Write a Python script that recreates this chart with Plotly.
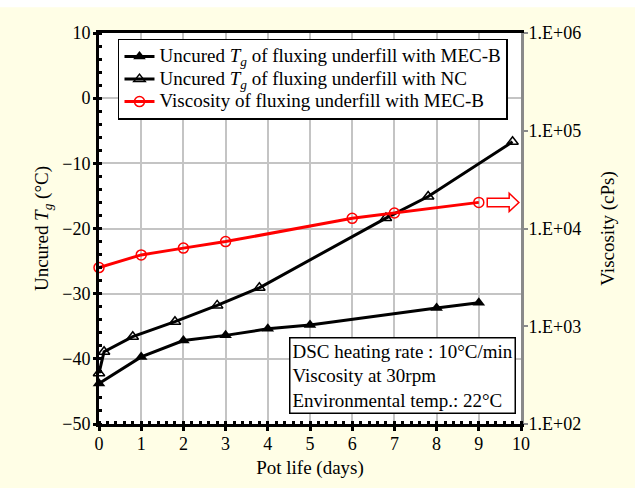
import plotly.graph_objects as go

# ---- data ----
mecb_days = [0, 1, 2, 3, 4, 5, 8, 9]
mecb_tg = [-43.8, -39.7, -37.2, -36.4, -35.4, -34.8, -32.2, -31.4]

nc_days = [0, 0.12, 0.8, 1.8, 2.8, 3.8, 6.8, 7.8, 9.8]
nc_tg = [-42.2, -38.9, -36.6, -34.3, -31.8, -29.1, -18.4, -15.1, -6.7]

visc_days = [0, 1, 2, 3, 6, 7, 9]
visc_cps = [3980, 5370, 6300, 7350, 12700, 14400, 18500]

right_tickvals = [1e2, 1e3, 1e4, 1e5, 1e6]
right_ticktext = ["1.E+02", "1.E+03", "1.E+04", "1.E+05", "1.E+06"]

FONT = "Liberation Serif, Times New Roman, serif"


def big(s):
    return f'<span style="font-size:19px">{s}</span>'


fig = go.Figure()
fig.add_trace(go.Scatter(
    x=mecb_days, y=mecb_tg, mode="lines+markers",
    name=big("Uncured <i>T<sub>g</sub></i> of fluxing underfill with MEC-B"),
    line=dict(color="black", width=3),
    marker=dict(symbol="triangle-up", size=11, color="black"),
    cliponaxis=False))
fig.add_trace(go.Scatter(
    x=nc_days, y=nc_tg, mode="lines+markers",
    name=big("Uncured <i>T<sub>g</sub></i> of fluxing underfill with NC"),
    line=dict(color="black", width=3),
    marker=dict(symbol="triangle-up-open", size=10, color="black", line=dict(width=1.5)),
    cliponaxis=False))
fig.add_trace(go.Scatter(
    x=visc_days, y=visc_cps, mode="lines+markers", yaxis="y2",
    name=big("Viscosity of fluxing underfill with MEC-B"),
    line=dict(color="#ff0000", width=3),
    marker=dict(symbol="circle-open", size=10, color="#ff0000", line=dict(width=1.5)),
    cliponaxis=False))

# right-pointing outline arrow
ax0, ax1, ax2 = 9.2, 9.72, 9.95
ay, bh, hh = -16.0, 0.66, 1.4
arrow_path = (f"M {ax0},{ay+bh} L {ax1},{ay+bh} L {ax1},{ay+hh} L {ax2},{ay} "
              f"L {ax1},{ay-hh} L {ax1},{ay-bh} L {ax0},{ay-bh} Z")

fig.update_layout(
    width=635, height=488,
    margin=dict(l=99, r=114, t=33, b=62),
    paper_bgcolor="#fffee6",
    plot_bgcolor="white",
    font=dict(family=FONT, size=18, color="black"),
    showlegend=True,
    legend=dict(x=0.045, y=0.985, xanchor="left", yanchor="top",
                bgcolor="white", bordercolor="black", borderwidth=1.5,
                font=dict(family=FONT, size=15), tracegroupgap=0,
                itemwidth=30),
    xaxis=dict(range=[0, 10], dtick=1, showgrid=True, gridcolor="#c4c4c4", gridwidth=1.5,
               showline=True, linecolor="black", linewidth=3, mirror=True,
               ticks="outside", ticklen=4, tickwidth=3, tickcolor="black",
               minor=dict(dtick=0.2, ticks="inside", ticklen=3, tickwidth=3,
                          tickcolor="black", showgrid=False),
               zeroline=False, ticklabelstandoff=-3,
               title=dict(text="Pot life (days)", font=dict(size=19), standoff=9),
               tickfont=dict(size=18)),
    yaxis=dict(range=[-50, 10], dtick=10, showgrid=True, gridcolor="#c4c4c4", gridwidth=1.5,
               showline=True, linecolor="black", linewidth=3,
               ticks="outside", ticklen=3, tickwidth=3, tickcolor="black",
               minor=dict(dtick=2, ticks="inside", ticklen=3, tickwidth=3,
                          tickcolor="black", showgrid=False),
               zeroline=False, ticklabelstandoff=-1,
               title=dict(text="Uncured <i>T<sub>g</sub></i> (°C)", font=dict(size=19), standoff=9),
               tickfont=dict(size=18)),
    yaxis2=dict(type="log", range=[2, 6], overlaying="y", side="right",
                tickvals=right_tickvals, ticktext=right_ticktext,
                showgrid=False, zeroline=False,
                showline=True, linecolor="#8a8a8a", linewidth=3,
                ticks="outside", ticklen=4, tickwidth=1.5, tickcolor="#8a8a8a",
                ticklabelstandoff=-3,
                title=dict(text="Viscosity (cPs)", font=dict(size=19), standoff=21),
                tickfont=dict(size=18)),
    shapes=[
        dict(type="rect", xref="paper", yref="paper", x0=-1, x1=2,
             y0=1.066, y1=1.2, fillcolor="white", line=dict(width=0), layer="below"),
        dict(type="path", xref="x", yref="y", path=arrow_path,
             line=dict(color="#ff0000", width=1.5), fillcolor="rgba(0,0,0,0)"),
    ],
    annotations=[
        dict(xref="paper", yref="paper", x=0.988, y=0.025, xanchor="right", yanchor="bottom",
             text="DSC heating rate : 10°C/min<br>Viscosity at 30rpm<br>Environmental temp.: 22°C",
             showarrow=False, align="left", font=dict(family=FONT, size=19),
             bgcolor="white", bordercolor="black", borderwidth=1.5, borderpad=2),
    ],
)

fig.write_html("out.html")
